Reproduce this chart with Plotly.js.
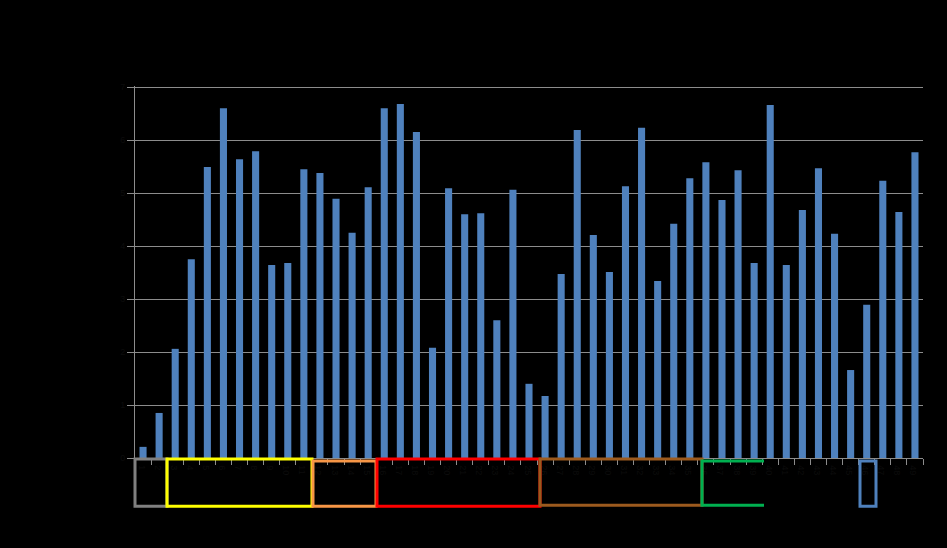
<!DOCTYPE html>
<html>
<head>
<meta charset="utf-8">
<script src="https://cdn.plot.ly/plotly-3.0.1.min.js"></script>
<style>html,body{margin:0;padding:0;background:#000;}#chart{width:947px;height:548px;}</style>
</head>
<body>
<div id="chart"></div>
<script>
// Category labels (invisible in the reference: dark text on black)
const categories = Array.from({length: 49}, (_, i) => String(i + 1));
// Bar values (gridline units)
const values = [0.21, 0.85, 2.06, 3.75, 5.49, 6.60, 5.64, 5.79, 3.64, 3.68,
                5.45, 5.38, 4.89, 4.25, 5.11, 6.60, 6.68, 6.15, 2.08, 5.09,
                4.60, 4.62, 2.60, 5.06, 1.40, 1.17, 3.47, 6.19, 4.21, 3.51,
                5.13, 6.23, 3.34, 4.42, 5.28, 5.58, 4.87, 5.43, 3.68, 6.66,
                3.64, 4.68, 5.47, 4.23, 1.66, 2.89, 5.23, 4.64, 5.77];
const yTicks = [0, 1, 2, 3, 4, 5, 6, 7];

// Group boxes below the axis: [x0px, x1px, y0px, y1px, colour, open-right]
const W = 947, H = 548, L = 135, R = 923, T = 87, B = 458;
const boxes = [
  [135, 167, 459, 506, '#808080', false],
  [167, 312, 459, 506, '#ffff00', false],
  [313, 376, 461, 506, '#f79646', false],
  [377, 540, 459, 506, '#ff0000', false],
  [540, 702, 459, 505, '#9c5a1e', false],
  [702, 764, 461, 505, '#00b050', true],
  [860, 876, 461, 506, '#4f81bd', false]
];
const px = x => (x - L) / (R - L);
const py = y => (B - y) / (B - T);
const shapes = [];
boxes.forEach(b => {
  const [x0, x1, y0, y1, c, open] = b;
  const line = {color: c, width: 3};
  if (!open) {
    shapes.push({type: 'rect', xref: 'paper', yref: 'paper', x0: px(x0), x1: px(x1), y0: py(y0), y1: py(y1), line: line, layer: 'above'});
  } else {
    shapes.push({type: 'path', xref: 'paper', yref: 'paper',
      path: `M ${px(x1)} ${py(y0)} L ${px(x0)} ${py(y0)} L ${px(x0)} ${py(y1)} L ${px(x1)} ${py(y1)}`,
      line: line, layer: 'above'});
  }
});

const trace = {
  type: 'bar', x: categories, y: values,
  marker: {color: '#4f81bd'},
  hoverinfo: 'x+y'
};

const layout = {
  width: W, height: H,
  paper_bgcolor: '#000', plot_bgcolor: '#000',
  margin: {l: L, r: W - R, t: T - 1, b: H - B, pad: 0},
  bargap: 0.56,
  showlegend: false,
  font: {family: 'Liberation Sans, Arial, sans-serif', size: 9, color: '#0c0c0c'},
  xaxis: {
    type: 'category', tickson: 'boundaries', ticks: 'outside', ticklen: 6,
    tickcolor: '#8c8c8c', showline: true, linecolor: '#8c8c8c', linewidth: 1,
    showgrid: false, tickfont: {color: '#0c0c0c', size: 9}, fixedrange: true
  },
  yaxis: {
    range: [0, 7.02], tickvals: yTicks, ticks: 'outside', ticklen: 7,
    tickcolor: '#8c8c8c', showline: true, linecolor: '#8c8c8c', linewidth: 1,
    showgrid: true, gridcolor: '#8c8c8c', gridwidth: 1, zeroline: false,
    tickfont: {color: '#0c0c0c', size: 9}, fixedrange: true
  },
  shapes: shapes
};

Plotly.newPlot('chart', [trace], layout, {displayModeBar: false, staticPlot: true});
</script>
</body>
</html>
